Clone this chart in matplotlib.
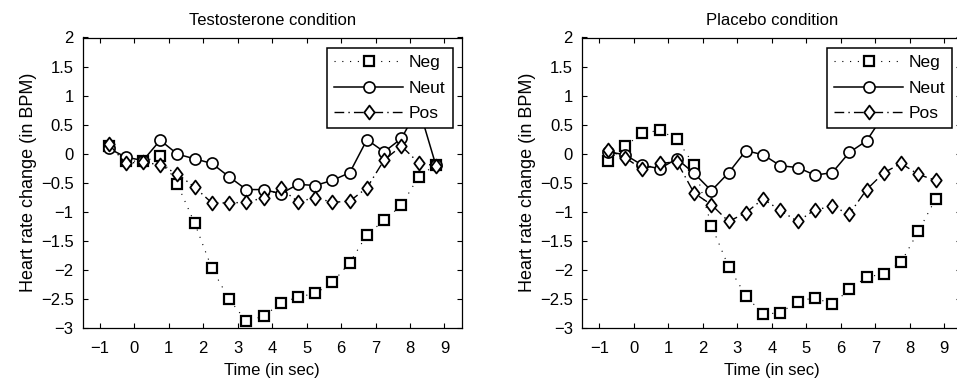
import matplotlib
matplotlib.use("Agg")
import matplotlib.pyplot as plt
from matplotlib.path import Path
import numpy as np

plt.rcParams['font.family'] = ['Liberation Sans', 'DejaVu Sans']

time_sec = [-0.75, -0.25, 0.25, 0.75, 1.25, 1.75, 2.25, 2.75, 3.25, 3.75,
            4.25, 4.75, 5.25, 5.75, 6.25, 6.75, 7.25, 7.75, 8.25, 8.75]

series_labels = ["Neg", "Neut", "Pos"]
titles = ["Testosterone condition", "Placebo condition"]

# Testosterone condition
testo_neg = [0.13, -0.13, -0.13, -0.05, -0.53, -1.20, -1.98, -2.51, -2.89, -2.80,
             -2.58, -2.47, -2.41, -2.22, -1.88, -1.40, -1.15, -0.89, -0.40, -0.19]
testo_neut = [0.09, -0.06, -0.12, 0.23, -0.01, -0.09, -0.17, -0.40, -0.62, -0.62,
              -0.69, -0.53, -0.55, -0.46, -0.33, 0.24, 0.03, 0.26, 0.80, -0.20]
testo_pos = [0.17, -0.17, -0.14, -0.20, -0.35, -0.58, -0.85, -0.85, -0.84, -0.76,
             -0.60, -0.83, -0.76, -0.84, -0.82, -0.59, -0.11, 0.13, -0.16, -0.21]

# Placebo condition
plac_neg = [-0.12, 0.13, 0.35, 0.40, 0.25, -0.20, -1.24, -1.95, -2.45, -2.77,
            -2.74, -2.55, -2.48, -2.60, -2.34, -2.13, -2.07, -1.87, -1.34, -0.78]
plac_neut = [0.03, -0.02, -0.20, -0.26, -0.09, -0.34, -0.64, -0.33, 0.05, -0.02,
             -0.21, -0.24, -0.37, -0.33, 0.02, 0.22, 0.67, 0.90, 1.05, 0.90]
plac_pos = [0.06, -0.07, -0.27, -0.17, -0.14, -0.68, -0.88, -1.17, -1.02, -0.78,
            -0.98, -1.17, -0.97, -0.91, -1.04, -0.62, -0.33, -0.17, -0.36, -0.46]

xticks = [-1, 0, 1, 2, 3, 4, 5, 6, 7, 8, 9]
yticks = [-3, -2.5, -2, -1.5, -1, -0.5, 0, 0.5, 1, 1.5, 2]

diamond = Path([(0, 1), (0.75, 0), (0, -1), (-0.75, 0), (0, 1)],
               [Path.MOVETO, Path.LINETO, Path.LINETO, Path.LINETO, Path.CLOSEPOLY])

styles = [
    dict(linestyle=(0, (1, 6)), linewidth=0.8, marker='s', markersize=7.4, markeredgewidth=1.6),
    dict(linestyle='-', linewidth=1.1, marker='o', markersize=8.0, markeredgewidth=1.2),
    dict(linestyle=(0, (7, 3, 1, 3)), linewidth=1.0, marker=diamond, markersize=10.0, markeredgewidth=1.3),
]

W, H = 957, 380
fig = plt.figure(figsize=(W / 100, H / 100), dpi=100)

axes_px = [(82.7, 461.7, (-1.5, 9.5)), (582.0, 961.5, (-1.5, 9.5))]
top_px, bot_px = 37.5, 327.7

datasets = [(testo_neg, testo_neut, testo_pos), (plac_neg, plac_neut, plac_pos)]

FS = 12
for i, ((x0, x1, xl), data) in enumerate(zip(axes_px, datasets)):
    ax = fig.add_axes([x0 / W, (H - bot_px) / H, (x1 - x0) / W, (bot_px - top_px) / H])
    for vals, lab, st in zip(data, series_labels, styles):
        ax.plot(time_sec, vals, color='black', markerfacecolor='white',
                markeredgecolor='black', label=lab, **st)
    ax.set_xlim(*xl)
    ax.set_ylim(-3, 2)
    ax.set_xticks(xticks)
    ax.set_yticks(yticks)
    ax.set_yticklabels([('\u2212' if v < 0 else '') + ('%g' % abs(v)) for v in yticks])
    ax.set_xticklabels([('\u2212' if v < 0 else '') + ('%g' % abs(v)) for v in xticks])
    ax.tick_params(direction='in', top=True, right=True, length=3.5, width=0.8,
                   labelsize=FS)
    ax.tick_params(axis='x', pad=9.5)
    ax.tick_params(axis='y', pad=6.5)
    for sp in ax.spines.values():
        sp.set_linewidth(0.9)
    ax.set_title(titles[i], fontsize=FS, pad=9)
    ax.set_xlabel("Time (in sec)", fontsize=FS, labelpad=5)
    ax.set_ylabel("Heart rate change (in BPM)", fontsize=13, labelpad=3)
    leg = ax.legend(loc='upper right', bbox_to_anchor=(0.976, 0.964),
                    borderaxespad=0, fontsize=FS + 0.5, handlelength=4.0,
                    handletextpad=0.3, labelspacing=0.58, borderpad=0.42,
                    fancybox=False, framealpha=1, edgecolor='black')
    leg.get_frame().set_linewidth(1.1)

fig.savefig("out.png", dpi=100)
